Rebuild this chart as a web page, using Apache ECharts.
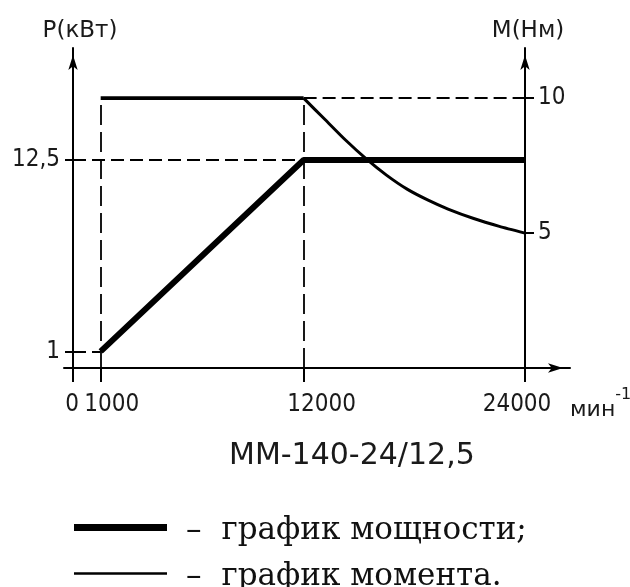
<!DOCTYPE html>
<html><head><meta charset="utf-8">
<script src="https://cdn.jsdelivr.net/npm/echarts@6/dist/echarts.min.js"></script>
<style>html,body{margin:0;padding:0;background:#fff}#c{width:630px;height:587px}</style>
</head><body><div id="c"></div>
<script>
// ---- data ----
const xTicks = [0, 1000, 12000, 24000];            // мин^-1
const powerTicks = [1, 12.5];                      // кВт
const torqueTicks = [5, 10];                       // Нм
const powerRpm = [1000, 12000, 24000];
const powerKW  = [1, 12.5, 12.5];
const torqueFlatRpm = [1000, 12000];
const torqueFlatNm  = [10, 10];
const torqueFallRpm = [12000, 13160, 14270, 15380, 16490, 17610, 18720, 19830, 21220, 22610, 24000];
const torqueFallNm  = [10, 9.21, 8.45, 7.76, 7.15, 6.63, 6.23, 5.89, 5.54, 5.25, 5.0];
const seriesNames = ['график мощности', 'график момента'];
const titleText = 'ММ-140-24/12,5';

// ---- layout / style ----
const X_MIN = -500, X_MAX = 24000;
const P_MAX = 19.23, M_MAX = 11.86;
const FONT_CAD = "'DejaVu Sans Condensed','DejaVu Sans',sans-serif";
const FONT_SANS = "'DejaVu Sans',sans-serif";
const FONT_SERIF = "'DejaVu Serif',serif";
const INK = '#1a1a1a';
const fmt = v => String(v).replace('.', ',');

const labelPad = [[0,20,0,0],[0,0,0,22],[0,0,0,36],[0,16,0,0]];
const xRich = {};
xTicks.forEach((v,i)=>{ xRich['x'+i] = {padding: labelPad[i], fontFamily: FONT_CAD, fontSize: 24, color: INK}; });

const pair = (xs, ys) => xs.map((x,i)=>[x, ys[i]]);
const arrowLine = {show:true, onZero:false, symbol:['none','arrow'], symbolSize:[7,15], symbolOffset:[0,-7], lineStyle:{color:'#000', width:2}};
const dashH = {type:[13,6], width:1.8, color:'#000'};
const dashV = {type:[20,7], width:1.8, color:'#000'};

const chart = echarts.init(document.getElementById('c'), null, {renderer:'canvas'});
chart.setOption({
  animation:false,
  backgroundColor:'#fff',
  title:{text:titleText, left:229, top:441, padding:0,
    textStyle:{fontFamily:FONT_SANS, fontSize:30, fontWeight:'normal', color:INK}},
  legend:{orient:'vertical', left:74, top:509, height:120, padding:0, itemWidth:93, itemHeight:14, itemGap:9,
    selectedMode:false,
    data:[{name:seriesNames[0], icon:'path://M0,0H93V7H0Z'},{name:seriesNames[1], icon:'path://M0,0H93V2.5H0Z'}],
    formatter: n => '{d|–}{t|' + n + (n===seriesNames[0] ? ';' : '.') + '}',
    textStyle:{fontFamily:FONT_SERIF, fontSize:31, color:'#111', lineHeight:30,
      rich:{d:{fontFamily:FONT_SERIF, fontSize:31, color:'#111', lineHeight:30, padding:[6,20,0,14]},
            t:{fontFamily:FONT_SERIF, fontSize:31, color:'#111', lineHeight:30, padding:[6,0,0,0]}}}},
  grid:[{left:73, top:48, width:452, height:320, outerBoundsMode:'none'},
        {left:64, top:48, width:506, height:320, outerBoundsMode:'none'}],
  xAxis:[
    {type:'value', gridIndex:0, min:X_MIN, max:X_MAX, axisLine:{show:false, onZero:false}, splitLine:{show:false},
     axisTick:{show:true, customValues:[X_MIN, ...xTicks.slice(1)], length:14, lineStyle:{color:'#000', width:2}},
     axisLabel:{customValues:xTicks, margin:25, hideOverlap:false, formatter:v=>'{x'+xTicks.indexOf(v)+'|'+v+'}', rich:xRich}},
    {type:'value', gridIndex:1, min:0, max:1, axisLine:arrowLine, axisTick:{show:false}, axisLabel:{show:false}, splitLine:{show:false},
     name:'{a|мин}{b|-1}', nameLocation:'end', nameGap:0,
     nameTextStyle:{align:'left', verticalAlign:'top', padding:[19,0,0,0],
       rich:{a:{fontFamily:FONT_SANS, fontSize:22, color:INK, verticalAlign:'top', lineHeight:22, padding:[12,0,0,0]},
             b:{fontFamily:FONT_SANS, fontSize:16, color:INK, verticalAlign:'top', lineHeight:16}}}}
  ],
  yAxis:[
    {type:'value', gridIndex:0, position:'left', min:0, max:P_MAX, axisLine:arrowLine, splitLine:{show:false},
     axisTick:{customValues:[0, ...powerTicks], length:8, lineStyle:{color:'#000', width:2}},
     axisLabel:{customValues:powerTicks, formatter:fmt, margin:13, fontFamily:FONT_CAD, fontSize:24, color:INK},
     name:'P(кВт)', nameLocation:'end', nameGap:5,
     nameTextStyle:{fontFamily:FONT_SANS, fontSize:23, color:INK, padding:[0,0,0,14]}},
    {type:'value', gridIndex:0, position:'right', min:0, max:M_MAX, axisLine:arrowLine, splitLine:{show:false},
     axisTick:{customValues:torqueTicks, length:9, lineStyle:{color:'#000', width:2}},
     axisLabel:{customValues:torqueTicks, formatter:fmt, margin:13, fontFamily:FONT_CAD, fontSize:24, color:INK},
     name:'M(Нм)', nameLocation:'end', nameGap:5,
     nameTextStyle:{fontFamily:FONT_SANS, fontSize:23, color:INK, padding:[0,0,0,6]}},
    {type:'value', gridIndex:1, show:false}
  ],
  series:[
    {type:'line', name:'guides-P', xAxisIndex:0, yAxisIndex:0, data:[], z:1, silent:true,
     markLine:{silent:true, symbol:'none', label:{show:false}, lineStyle:dashH, animation:false,
       data:[[{coord:[X_MIN, powerKW[0]]},{coord:[powerRpm[0], powerKW[0]]}],
             [{coord:[X_MIN, powerKW[1]]},{coord:[powerRpm[1], powerKW[1]]}]]}},
    {type:'line', name:'guides-M', xAxisIndex:0, yAxisIndex:1, data:[], z:1, silent:true,
     markLine:{silent:true, symbol:'none', label:{show:false}, lineStyle:dashV, animation:false,
       data:[[{coord:[torqueFlatRpm[0], 0]},{coord:[torqueFlatRpm[0], torqueFlatNm[0]]}],
             [{coord:[torqueFlatRpm[1], 0]},{coord:[torqueFlatRpm[1], torqueFlatNm[1]]}],
             [{coord:[torqueFlatRpm[1], torqueFlatNm[1]], lineStyle:dashH},{coord:[X_MAX, torqueFlatNm[1]]}]]}},
    {type:'line', name:seriesNames[0], xAxisIndex:0, yAxisIndex:0, z:3, data:pair(powerRpm, powerKW),
     symbol:'none', lineStyle:{color:'#000', width:6}, itemStyle:{color:'#000'}},
    {type:'line', name:seriesNames[1], xAxisIndex:0, yAxisIndex:1, z:3, data:pair(torqueFlatRpm, torqueFlatNm),
     symbol:'none', lineStyle:{color:'#000', width:3.8}, itemStyle:{color:'#000'}},
    {type:'line', name:seriesNames[1], xAxisIndex:0, yAxisIndex:1, z:3, data:pair(torqueFallRpm, torqueFallNm),
     symbol:'none', smooth:0.2, lineStyle:{color:'#000', width:3}, itemStyle:{color:'#000'}}
  ]
});
</script></body></html>
